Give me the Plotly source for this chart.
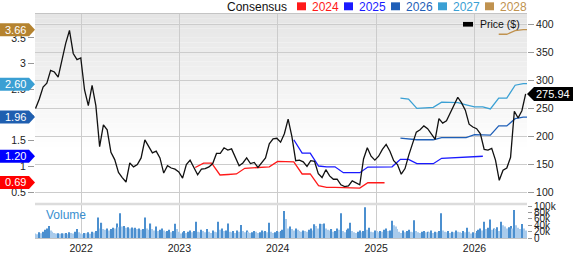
import plotly.graph_objects as go
import pandas as pd

# ---------------- data ----------------
# closing price ($), every two weeks from 2021-07-16
price = [250, 267, 288, 295, 318, 315, 306, 338, 366, 389,
         348, 337, 340, 283, 255, 291, 255, 182, 221, 212,
         172, 159, 136, 127, 119, 153, 146, 150, 162, 194,
         182, 171, 174, 162, 135, 148, 144, 142, 137, 126,
         150, 158, 145, 132, 142, 143, 146, 152, 170, 170,
         180, 176, 178, 164, 148, 153, 162, 152, 154, 145,
         154, 162, 187, 196, 197, 190, 205, 231, 200, 157,
         158, 155, 147, 157, 156, 134, 127, 141, 130, 124,
         124, 114, 111, 112, 121, 117, 114, 160, 180, 165,
         158, 165, 177, 186, 174, 157, 150, 133, 143, 167,
         188, 208, 212, 219, 214, 204, 195, 232, 224, 228,
         243, 256, 270, 260, 247, 222, 217, 214, 205, 177,
         176, 179, 158, 122, 140, 144, 163, 245, 233, 246,
         275.94]
price_start = "2021-07-16"
last_price_label = "275.94"

# weekly volume (thousands) from 2021-07-16
volume_k = [14, 12, 18, 15, 20, 26, 30, 38, 24, 20, 16, 14, 15, 13, 15, 14, 16, 12, 18, 16, 14, 20, 28, 18, 14, 12,
            16, 15, 18, 13, 20, 17, 22, 65, 30, 48, 28, 26, 30, 24, 28, 32, 30, 46, 34, 78, 36, 38, 32, 34, 30, 33,
            30, 32, 28, 30, 26, 28, 65, 30, 26, 46, 28, 24, 36, 22, 26, 30, 24, 20, 22, 26, 18, 22, 45, 28, 20, 14,
            18, 22, 16, 20, 24, 18, 22, 51, 20, 18, 26, 22, 18, 28, 20, 16, 24, 20, 18, 51, 26, 30, 22, 24, 46, 20,
            18, 22, 16, 24, 20, 41, 22, 18, 24, 20, 16, 18, 22, 20, 16, 18, 24, 20, 22, 18, 48, 20, 16, 18, 22, 20,
            22, 26, 85, 60, 30, 36, 28, 24, 30, 26, 22, 20, 24, 22, 20, 26, 30, 24, 43, 38, 30, 45, 44, 46, 30, 26,
            24, 28, 20, 22, 30, 26, 78, 22, 18, 26, 30, 48, 22, 18, 16, 20, 24, 18, 22, 97, 26, 32, 20, 18, 24, 22,
            18, 22, 20, 26, 30, 22, 24, 54, 40, 36, 28, 20, 16, 24, 18, 22, 26, 20, 18, 56, 22, 18, 16, 20, 22, 18,
            20, 18, 24, 16, 20, 18, 22, 78, 24, 20, 18, 22, 16, 20, 18, 24, 20, 18, 16, 22, 18, 32, 20, 14, 18, 16,
            22, 26, 30, 24, 51, 28, 32, 58, 26, 30, 28, 34, 22, 51, 40, 36, 30, 34, 38, 30, 88, 40, 32, 28, 44, 30, 24]

# monthly consensus EPS estimates
eps2024_start = "2023-03-01"
eps2024 = [0.98, 1.067, 1.067, 0.836, 0.845, 0.855, 0.965, 0.975, 0.985, 0.995, 1.10, 1.10,
           1.09, 0.855, 0.855, 0.63, 0.594, 0.594, 0.585, 0.575, 0.58, 0.685, 0.685, 0.685]
eps2025_start = "2024-03-01"
eps2025 = [1.52, 1.26, 1.26, 1.01, 0.994, 0.994, 0.88, 0.88, 0.88, 0.99, 0.99, 0.99,
           0.995, 1.14, 1.14, 1.055, 1.055, 1.055, 1.16, 1.17, 1.18, 1.19, 1.20, 1.20]
eps2026_start = "2025-04-01"
eps2026 = [1.55, 1.53, 1.52, 1.52, 1.52, 1.56, 1.56, 1.56, 1.56, 1.62, 1.62, 1.61,
           1.79, 1.79, 1.93, 1.96, 1.96]
eps2027_start = "2025-04-01"
eps2027 = [2.33, 2.31, 2.13, 2.14, 2.15, 2.25, 2.25, 2.24, 2.20, 2.16, 2.16, 2.12,
           2.33, 2.33, 2.58, 2.61, 2.61]
eps2028_start = "2026-04-01"
eps2028 = [3.57, 3.57, 3.64, 3.66, 3.66]

series_names = ["2024", "2025", "2026", "2027", "2028"]
series_colors = ["#ff1a1a", "#1a1aff", "#1f5fb8", "#3aa0d4", "#c0924f"]
tag_colors = ["#ff0000", "#0000ff", "#1f5fb0", "#3a9fd3", "#b5832f"]
tag_values = [0.69, 1.20, 1.96, 2.60, 3.66]
tag_texts = ["0.69", "1.20", "1.96", "2.60", "3.66"]

year_ticks = ["2022-01-01", "2023-01-01", "2024-01-01", "2025-01-01", "2026-01-01"]
year_labels = ["2022", "2023", "2024", "2025", "2026"]
eps_ticks = [0.5, 1, 1.5, 2, 2.5, 3, 3.5]
price_ticks = [100, 150, 200, 250, 300, 350, 400]
vol_ticks = [0, 20, 40, 60, 80, 100]
vol_labels = ["0", "20k", "40k", "60k", "80k", "100k"]

# ---------------- layout helpers ----------------
W, H = 573, 264
L, R, T, B = 35, 46, 14, 10
PW, PH = W - L - R, H - T - B
FONT = "Liberation Sans, Arial, sans-serif"


def px(x):
    return (x - L) / PW


def py(y):
    return (H - B - y) / PH


price_dates = pd.date_range(price_start, periods=len(price), freq="14D")
vol_dates = pd.date_range(price_start, periods=len(volume_k), freq="7D")
eps_sets = [(eps2024_start, eps2024), (eps2025_start, eps2025), (eps2026_start, eps2026),
            (eps2027_start, eps2027), (eps2028_start, eps2028)]

fig = go.Figure()

for (start, vals), name, col in zip(eps_sets, series_names, series_colors):
    fig.add_trace(go.Scatter(
        x=pd.date_range(start, periods=len(vals), freq="MS"), y=vals,
        mode="lines", line=dict(color=col, width=1.3), name=name,
        xaxis="x", yaxis="y", hoverinfo="skip"))

fig.add_trace(go.Scatter(x=price_dates, y=price, mode="lines",
                         line=dict(color="#111111", width=1.3), name="Price ($)",
                         xaxis="x", yaxis="y2"))

vol_colors = ["#4b8fcf" if i > 0 and v > volume_k[i - 1] else "#a9cbec"
              for i, v in enumerate(volume_k)]
fig.add_trace(go.Bar(x=vol_dates, y=volume_k, marker=dict(color=vol_colors, line=dict(width=0)),
                     xaxis="x2", yaxis="y3", name="Volume"))

x_range = ["2021-07-14", "2026-07-15"]
price_bottom = py(217.5)
vol_top = py(219)

shapes = []
# gradient background of the price panel
n_bands = 40
for k in range(n_bands):
    t = k / n_bands
    g = int(round(229 + 26 * min(1.0, t / 0.7)))
    y_hi = 1 - (1 - price_bottom) * k / n_bands
    y_lo = 1 - (1 - price_bottom) * (k + 1) / n_bands
    shapes.append(dict(type="rect", xref="paper", yref="paper", x0=0, x1=1, y0=y_lo, y1=y_hi,
                       fillcolor=f"rgb({g},{g},{g})", line=dict(width=0), layer="below"))
# separator between panels
shapes.append(dict(type="rect", xref="paper", yref="paper", x0=0, x1=1,
                   y0=py(219), y1=py(216.3), fillcolor="#dcdcdc", line=dict(width=0)))

# left consensus tags
annotations = []
for v, txt, col in zip(tag_values, tag_texts, tag_colors):
    shapes.append(dict(type="path", xref="paper", yref="y", xsizemode="pixel", ysizemode="pixel",
                       xanchor=0, yanchor=v,
                       path="M-35,-6.5 L-6,-6.5 L0,0 L-6,6.5 L-35,6.5 Z",
                       fillcolor=col, line=dict(width=0)))
    annotations.append(dict(xref="paper", yref="y", x=0, y=v, xshift=-20, text=txt, showarrow=False,
                            font=dict(family=FONT, size=11, color="white"), xanchor="center",
                            yanchor="middle"))

# right price tag
shapes.append(dict(type="path", xref="paper", yref="y2", xsizemode="pixel", ysizemode="pixel",
                   xanchor=1, yanchor=price[-1],
                   path="M0,0 L7,-7 L46,-7 L46,7 L7,7 Z", fillcolor="#000000", line=dict(width=0)))
annotations.append(dict(xref="paper", yref="y2", x=1, y=price[-1], xshift=26, text=last_price_label,
                        showarrow=False, font=dict(family=FONT, size=11, color="white"),
                        xanchor="center", yanchor="middle"))

# top legend
annotations.append(dict(xref="paper", yref="paper", x=px(225), y=py(6), text="Consensus",
                        showarrow=False, xanchor="left", yanchor="middle",
                        font=dict(family=FONT, size=12, color="#111111")))
for i, (name, col) in enumerate(zip(series_names, series_colors)):
    sx = 297 + 47 * i
    shapes.append(dict(type="rect", xref="paper", yref="paper", x0=px(sx), x1=px(sx + 9),
                       y0=py(10), y1=py(1.5), fillcolor=col, line=dict(width=0)))
    annotations.append(dict(xref="paper", yref="paper", x=px(sx + 13), y=py(6), text=name,
                            showarrow=False, xanchor="left", yanchor="middle",
                            font=dict(family=FONT, size=12, color=col)))

# price legend inside plot
shapes.append(dict(type="rect", xref="paper", yref="paper", x0=px(463), x1=px(473),
                   y0=py(27.5), y1=py(22.5), fillcolor="#000000", line=dict(width=0)))
annotations.append(dict(xref="paper", yref="paper", x=px(478), y=py(25), text="Price ($)",
                        showarrow=False, xanchor="left", yanchor="middle",
                        font=dict(family=FONT, size=10.5, color="#111111")))
annotations.append(dict(xref="paper", yref="paper", x=px(44), y=py(229), text="Volume",
                        showarrow=False, xanchor="left", yanchor="middle",
                        font=dict(family=FONT, size=12, color="#3a8fd0")))

grid_col = "#cccccc"
line_col = "#c4c4c4"
tick_font = dict(family=FONT, size=10.5, color="#222222")

fig.update_layout(
    width=W, height=H,
    margin=dict(l=L, r=R, t=T, b=B, pad=0),
    paper_bgcolor="white", plot_bgcolor="white",
    showlegend=False, bargap=0.4,
    font=dict(family=FONT),
    xaxis=dict(domain=[0, 1], anchor="y", type="date", range=x_range, tickvals=year_ticks,
               showticklabels=False, showgrid=True, gridcolor=grid_col, gridwidth=1,
               showline=True, mirror=True, linecolor=line_col, ticks="", zeroline=False),
    xaxis2=dict(domain=[0, 1], anchor="y3", type="date", range=x_range, matches="x",
                tickvals=year_ticks, ticktext=year_labels, showgrid=True, gridcolor=grid_col,
                showline=True, mirror=True, linecolor=line_col, ticks="", tickfont=tick_font),
    yaxis=dict(domain=[price_bottom, 1], range=[0.273, 3.964], side="left", tickvals=eps_ticks,
               ticks="outside", ticklen=6, tickcolor="#999999", showgrid=False, zeroline=False,
               showline=False, tickfont=tick_font),
    yaxis2=dict(overlaying="y", side="right", range=[80, 418.3], tickvals=price_ticks,
                ticks="outside", ticklen=6, tickcolor="#999999", showgrid=True, gridcolor=grid_col,
                zeroline=False, showline=False, tickfont=tick_font),
    yaxis3=dict(domain=[0, vol_top], anchor="x2", side="right", range=[0, 103], tickvals=vol_ticks,
                ticktext=vol_labels, ticks="outside", ticklen=4, tickcolor="#999999",
                showgrid=False, zeroline=False, showline=False,
                tickfont=dict(family=FONT, size=10, color="#222222")),
    shapes=shapes,
    annotations=annotations,
)

fig.write_html("out.html")
